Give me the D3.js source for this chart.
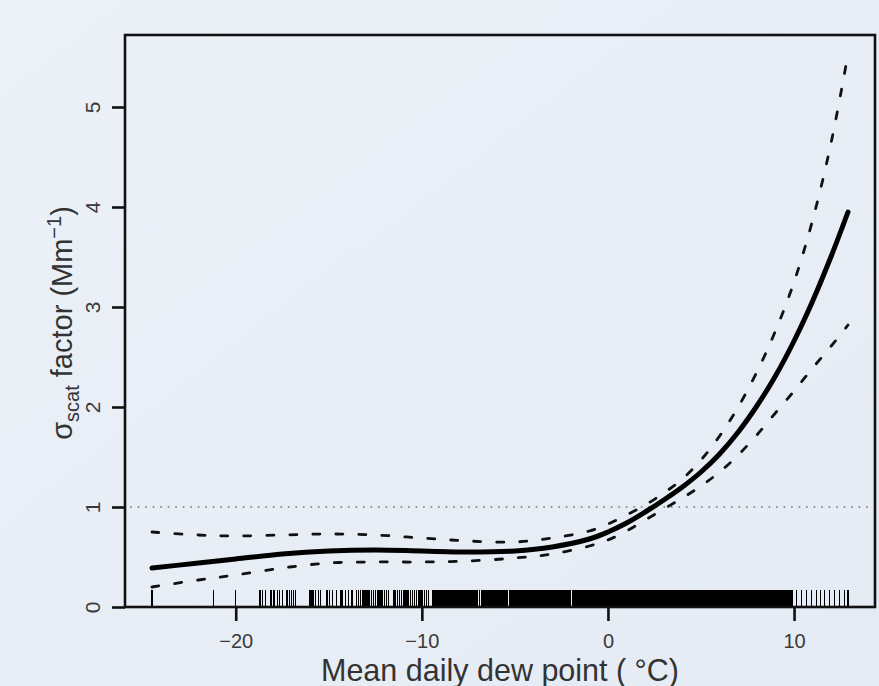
<!DOCTYPE html>
<html>
<head>
<meta charset="utf-8">
<script src="https://cdnjs.cloudflare.com/ajax/libs/d3/7.8.5/d3.min.js"></script>
<style>
body{margin:0;background:#e8eef6}
svg{display:block;font-family:"Liberation Sans",Arial,Helvetica,sans-serif}
</style>
</head>
<body>
<svg id="chart" width="879" height="686"></svg>
<script>
// smooth term (dew point -> sigma_scat factor), with upper / lower band
const dewPoint = [-24.5,-22,-20,-17.5,-15,-12.5,-10,-7.5,-5,-3,-1,0,1,2,3,4,5,6,7,8,9,10,11,12,12.9]
const fitValues = [0.39,0.44,0.48,0.53,0.56,0.57,0.56,0.55,0.56,0.60,0.68,0.75,0.84,0.95,1.07,1.20,1.35,1.53,1.75,2.01,2.31,2.66,3.06,3.51,3.95]
const upperValues = [0.75,0.72,0.71,0.72,0.73,0.72,0.69,0.66,0.65,0.69,0.76,0.83,0.92,1.02,1.14,1.28,1.47,1.71,2.00,2.35,2.76,3.25,3.87,4.65,5.53]
const lowerValues = [0.20,0.27,0.32,0.39,0.44,0.45,0.45,0.46,0.49,0.53,0.61,0.67,0.76,0.87,0.98,1.09,1.21,1.35,1.52,1.72,1.94,2.16,2.39,2.61,2.82]

const xTicks = [-20,-10,0,10]
const yTicks = [0,1,2,3,4,5]
const refLevel = 1

// observed dew points (rug)
const rugX = [
-24.5,-21.2,-20.0,
-18.7,-18.55,-18.4,-18.1,-17.95,-17.75,-17.65,-17.5,-17.25,-17.1,-17.0,-16.9,-16.8,
-16.05,-15.95,-15.85,-15.7,-15.55,-15.45,-15.1,-14.95,-14.8,-14.6,
-14.35,-14.25,-14.1,-13.95,-13.75,
-13.5,-13.4,-13.3,-13.2,-13.1,-13.0,-12.9,-12.8,-12.7,-12.6,-12.5,-12.4,-12.3,-12.2,-12.1,-12.0,-11.9,-11.8,
-11.5,-11.4,-11.3,-11.2,-11.1,-11.0,-10.9,-10.8,-10.7,-10.6,-10.5,-10.4,-10.3,
-10.15,-10.05,-9.95,-9.85,-9.75,-9.65,-9.4,
-9.3,-9.25,-9.2,-9.15,-9.1,-9.05,
-9,-8.95,-8.9,-8.85,-8.8,-8.75,-8.7,-8.65,-8.6,-8.55,-8.5,-8.45,-8.4,-8.35,-8.3,-8.25,-8.2,-8.15,-8.1,-8.05,
-8,-7.9,-7.85,-7.8,-7.75,-7.7,-7.65,-7.6,-7.55,-7.5,-7.45,-7.4,-7.35,-7.3,-7.25,-7.2,-7.15,-7.1,-7.05,
-7,-6.9,-6.8,-6.75,-6.7,-6.65,-6.6,-6.55,-6.5,-6.45,-6.4,-6.35,-6.3,-6.25,-6.2,-6.15,-6.1,-6.05,
-6,-5.95,-5.9,-5.85,-5.8,-5.75,-5.7,-5.65,-5.6,-5.55,-5.5,-5.45,-5.4,-5.3,-5.25,-5.2,-5.15,-5.1,-5.05,
-5,-4.95,-4.9,-4.85,-4.8,-4.75,-4.7,-4.65,-4.6,-4.55,-4.5,-4.45,-4.4,-4.35,-4.3,-4.25,-4.2,-4.15,-4.1,-4.05,
-4,-3.95,-3.9,-3.85,-3.8,-3.75,-3.7,-3.65,-3.6,-3.55,-3.5,-3.45,-3.4,-3.35,-3.3,-3.25,-3.2,-3.15,-3.1,-3.05,
-3,-2.95,-2.9,-2.85,-2.8,-2.75,-2.7,-2.65,-2.6,-2.55,-2.5,-2.45,-2.4,-2.35,-2.3,-2.25,-2.2,-2.15,-2.1,-2.05,
-2,-1.9,-1.85,-1.8,-1.75,-1.7,-1.65,-1.6,-1.55,-1.5,-1.45,-1.4,-1.35,-1.3,-1.25,-1.2,-1.15,-1.1,-1.05,
-1,-0.95,-0.9,-0.85,-0.8,-0.75,-0.7,-0.65,-0.6,-0.55,-0.5,-0.45,-0.4,-0.35,-0.3,-0.25,-0.2,-0.15,-0.1,-0.05,
0,0.05,0.1,0.15,0.2,0.25,0.3,0.35,0.4,0.45,0.5,0.55,0.6,0.65,0.7,0.75,0.8,0.85,0.9,0.95,
1,1.05,1.1,1.15,1.2,1.25,1.3,1.35,1.4,1.45,1.5,1.55,1.6,1.65,1.7,1.75,1.8,1.85,1.9,1.95,
2,2.05,2.1,2.15,2.2,2.25,2.3,2.35,2.4,2.45,2.5,2.55,2.6,2.65,2.7,2.75,2.8,2.85,2.9,2.95,
3,3.05,3.1,3.15,3.2,3.25,3.3,3.35,3.4,3.45,3.5,3.55,3.6,3.65,3.7,3.75,3.8,3.85,3.9,3.95,
4,4.05,4.1,4.15,4.2,4.25,4.3,4.35,4.4,4.45,4.5,4.55,4.6,4.65,4.7,4.75,4.8,4.85,4.9,4.95,
5,5.05,5.1,5.15,5.2,5.25,5.3,5.35,5.4,5.45,5.5,5.55,5.6,5.65,5.7,5.75,5.8,5.85,5.9,5.95,
6,6.05,6.1,6.15,6.2,6.25,6.3,6.35,6.4,6.45,6.5,6.55,6.6,6.65,6.7,6.75,6.8,6.85,6.9,6.95,
7,7.05,7.1,7.15,7.2,7.25,7.3,7.35,7.4,7.45,7.5,7.55,7.6,7.65,7.7,7.75,7.8,7.85,7.9,7.95,
8,8.05,8.1,8.15,8.2,8.25,8.3,8.35,8.4,8.45,8.5,8.55,8.6,8.65,8.7,8.75,8.8,8.85,8.9,8.95,
9,9.05,9.1,9.15,9.2,9.25,9.3,9.35,9.4,9.45,9.5,9.55,9.6,9.65,9.7,9.75,9.8,9.85,9.9,
10.13,10.4,10.67,10.93,11.2,11.42,11.65,11.92,12.18,12.45,12.72,12.9
]

const svg = d3.select("#chart")

// background
const grad = svg.append("defs").append("linearGradient")
  .attr("id","bg").attr("x1","0").attr("y1","0").attr("x2","1").attr("y2","1")
grad.append("stop").attr("offset","0").attr("stop-color","#ecf1f8")
grad.append("stop").attr("offset","1").attr("stop-color","#e5ebf4")
svg.append("rect").attr("width",879).attr("height",686).attr("fill","url(#bg)")

const x = d3.scaleLinear().domain([-25.95,14.35]).range([125,875])
const y = d3.scaleLinear().domain([0,5.72]).range([607,35])

// reference line at factor 1
svg.append("line")
  .attr("x1",x.range()[0]+6).attr("x2",x.range()[1]-2)
  .attr("y1",y(refLevel)).attr("y2",y(refLevel))
  .attr("stroke","#8c8c8c").attr("stroke-width",2)
  .attr("stroke-dasharray","0.01,7.5").attr("stroke-linecap","round")

// rug
svg.append("g").selectAll("line")
  .data(rugX).enter()
    .append("line")
    .attr("x1",d => x(d)).attr("x2",d => x(d))
    .attr("y1",y(0)).attr("y2",y(0)-17)
    .attr("stroke","#000").attr("stroke-width",1.3)
    .attr("shape-rendering","crispEdges")

function makeLine(vals){
  return d3.line()
    .x((d,i) => x(dewPoint[i]))
    .y(d => y(d))
    .curve(d3.curveCatmullRom.alpha(0.5))(vals)
}

// confidence band
;[upperValues, lowerValues].forEach(function(vals){
  svg.append("path")
    .attr("d",makeLine(vals))
    .attr("fill","none").attr("stroke","#111").attr("stroke-width",2.8)
    .attr("stroke-dasharray","7,16").attr("stroke-linecap","round")
})

// fitted curve
svg.append("path")
  .attr("d",makeLine(fitValues))
  .attr("fill","none").attr("stroke","#000").attr("stroke-width",5)
  .attr("stroke-linecap","round")

// box
svg.append("rect")
  .attr("x",125).attr("y",35).attr("width",750).attr("height",572)
  .attr("fill","none").attr("stroke","#111").attr("stroke-width",2.6)

// x axis
const xAxis = svg.append("g")
  .attr("transform","translate(0,"+y(0)+")")
  .call(d3.axisBottom(x).tickValues(xTicks).tickSize(14).tickPadding(13))
xAxis.select(".domain").remove()
xAxis.selectAll(".tick line").attr("stroke","#111").attr("stroke-width",2.6)
xAxis.selectAll(".tick text").attr("font-size",20).attr("fill","#3a3a3a")
  .attr("font-family","'Liberation Sans',Arial,sans-serif")

// y axis, labels turned like in base R
const yAxis = svg.append("g")
  .attr("transform","translate("+x.range()[0]+",0)")
  .call(d3.axisLeft(y).tickValues(yTicks).tickSize(13).tickFormat(d3.format("d")))
yAxis.select(".domain").remove()
yAxis.selectAll(".tick line").attr("stroke","#111").attr("stroke-width",2.6)
yAxis.selectAll(".tick text")
  .attr("x",null).attr("dy",null)
  .attr("transform","translate(-25,0) rotate(-90)")
  .attr("text-anchor","middle")
  .attr("font-size",21).attr("fill","#3a3a3a")
  .attr("font-family","'Liberation Sans',Arial,sans-serif")

// axis titles
svg.append("text")
  .attr("x",500).attr("y",681)
  .attr("text-anchor","middle").attr("font-size",30.5).attr("fill","#333")
  .text("Mean daily dew point ( °C)")

const yTitle = svg.append("text")
  .attr("transform","translate(72,323) rotate(-90)")
  .attr("text-anchor","middle").attr("font-size",29).attr("fill","#333")
yTitle.append("tspan").text("σ")
yTitle.append("tspan").attr("font-size",20).attr("dy",7).text("scat")
yTitle.append("tspan").attr("dy",-7).text(" factor (Mm")
yTitle.append("tspan").attr("font-size",20).attr("dy",-11).text("−1")
yTitle.append("tspan").attr("dy",11).text(")")
</script>
</body>
</html>
